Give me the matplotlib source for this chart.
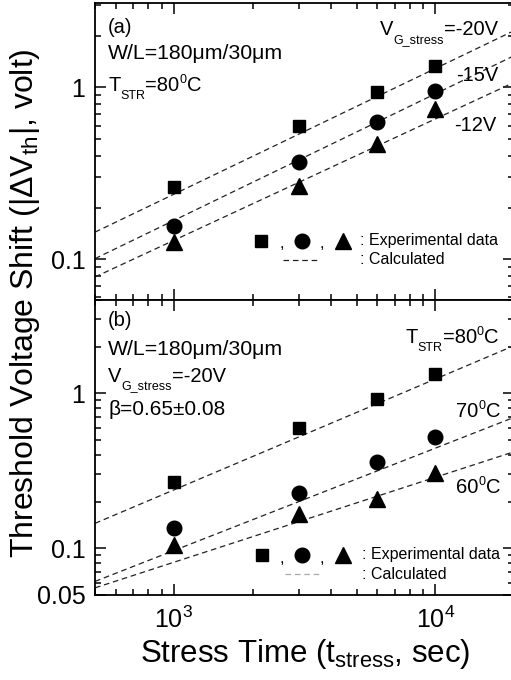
import matplotlib
matplotlib.use("Agg")
import matplotlib.pyplot as plt
from matplotlib.ticker import LogLocator, NullFormatter, FixedLocator, FixedFormatter
from matplotlib.transforms import offset_copy

plt.rcParams['font.family'] = ['Liberation Sans', 'DejaVu Sans']
plt.rcParams['mathtext.fontset'] = 'custom'
plt.rcParams['mathtext.rm'] = 'Liberation Sans'
plt.rcParams['mathtext.it'] = 'Liberation Sans:italic'
plt.rcParams['mathtext.bf'] = 'Liberation Sans:bold'

# stress time (sec)
t_stress = [1000, 3000, 6000, 10000]

# (a) T = 80C, different gate stress
a_20V = [0.262, 0.60, 0.935, 1.34]
a_15V = [0.156, 0.37, 0.63, 0.96]
a_12V = [0.126, 0.266, 0.466, 0.745]

# (b) VG = -20V, different temperature
b_80C = [0.268, 0.60, 0.925, 1.34]
b_70C = [0.135, 0.229, 0.36, 0.52]
b_60C = [0.1045, 0.166, 0.209, 0.306]

# calculated lines, values at the axis ends
t_calc = [500, 20000]
a_calc_20V = [0.144, 2.14]
a_calc_15V = [0.101, 1.53]
a_calc_12V = [0.079, 1.07]
b_calc_80C = [0.145, 2.03]
b_calc_70C = [0.0612, 0.70]
b_calc_60C = [0.0556, 0.42]

fig = plt.figure(figsize=(5.11, 6.8), dpi=100)
ax1 = fig.add_axes([0.186, 0.5588, 0.82, 0.4368])
ax2 = fig.add_axes([0.186, 0.125, 0.82, 0.4338])
renderer = fig.canvas.get_renderer()

dash = dict(color='#222222', lw=0.9, dashes=(4.5, 3))
ms_sq, ms_ci, ms_tr = 9, 10.5, 11
fs_small = 9


def rich(ax, x, y, parts, ha='left', size=14.5):
    # parts: (string, kind) with kind '', 'sub' or 'sup'
    items = []
    total = 0
    for s, kind in parts:
        fs = size if kind == '' else fs_small
        t = ax.text(x, y, s, fontsize=fs, va='baseline', transform=ax.transAxes)
        w = t.get_window_extent(renderer).width * 72 / fig.dpi
        items.append((t, kind, w))
        total += w
    dx = -total if ha == 'right' else 0
    for t, kind, w in items:
        dy = {'': 0, 'sub': -5.5, 'sup': 5.5}[kind]
        t.set_transform(offset_copy(ax.transAxes, fig=fig, x=dx, y=dy, units='points'))
        dx += w


for ax in (ax1, ax2):
    ax.set_xscale('log')
    ax.set_yscale('log')
    ax.set_xlim(500, 20000)
    for s in ax.spines.values():
        s.set_linewidth(1.3)
    ax.tick_params(which='both', direction='in', top=True, right=True, width=1.1)
    ax.tick_params(which='major', length=8, labelsize=18, pad=7)
    ax.tick_params(which='minor', length=4.5)
    ax.xaxis.set_major_locator(LogLocator(base=10, numticks=10))
    ax.xaxis.set_minor_locator(LogLocator(base=10, subs=range(2, 10), numticks=10))
    ax.xaxis.set_minor_formatter(NullFormatter())
    ax.yaxis.set_minor_locator(LogLocator(base=10, subs=range(2, 10), numticks=10))
    ax.yaxis.set_minor_formatter(NullFormatter())

# panel (a)
ax1.set_ylim(0.058, 3.1)
ax1.plot(t_calc, a_calc_20V, **dash)
ax1.plot(t_calc, a_calc_15V, **dash)
ax1.plot(t_calc, a_calc_12V, **dash)
ax1.plot(t_stress, a_20V, 's', color='black', ms=ms_sq, ls='none')
ax1.plot(t_stress, a_15V, 'o', color='black', ms=ms_ci, ls='none')
ax1.plot(t_stress, a_12V, '^', color='black', ms=ms_tr, ls='none')
ax1.yaxis.set_major_locator(FixedLocator([0.1, 1]))
ax1.yaxis.set_major_formatter(FixedFormatter(['0.1', '1']))
ax1.tick_params(axis='x', labelbottom=False)

tr1 = ax1.transAxes
rich(ax1, 0.031, 0.899, [('(a)', '')])
rich(ax1, 0.031, 0.811, [('W/L=180μm/30μm', '')], size=15.3)
rich(ax1, 0.031, 0.704, [('T', ''), ('STR', 'sub'), ('=80', ''), ('0', 'sup'), ('C', '')])
rich(ax1, 0.962, 0.892, [('V', ''), ('G_stress', 'sub'), ('=-20V', '')], ha='right')
rich(ax1, 0.962, 0.737, [('-15V', '')], ha='right')
rich(ax1, 0.957, 0.569, [('-12V', '')], ha='right')

# legend text drawn by hand
ax1.plot([0.396], [0.199], 's', color='black', ms=ms_sq, transform=tr1)
ax1.plot([0.494], [0.199], 'o', color='black', ms=ms_ci, transform=tr1)
ax1.plot([0.592], [0.199], '^', color='black', ms=ms_tr, transform=tr1)
ax1.text(0.446, 0.175, ',', fontsize=12, ha='center', transform=tr1)
ax1.text(0.542, 0.175, ',', fontsize=12, ha='center', transform=tr1)
ax1.text(0.632, 0.199, ': Experimental data', fontsize=11.5, va='center', transform=tr1)
ax1.plot([0.449, 0.532], [0.135, 0.135], transform=tr1, **dash)
ax1.text(0.632, 0.135, ': Calculated', fontsize=11.5, va='center', transform=tr1)

# panel (b)
ax2.set_ylim(0.05, 4.0)
ax2.plot(t_calc, b_calc_80C, **dash)
ax2.plot(t_calc, b_calc_70C, **dash)
ax2.plot(t_calc, b_calc_60C, **dash)
ax2.plot(t_stress, b_80C, 's', color='black', ms=ms_sq, ls='none')
ax2.plot(t_stress, b_70C, 'o', color='black', ms=ms_ci, ls='none')
ax2.plot(t_stress, b_60C, '^', color='black', ms=ms_tr, ls='none')
ax2.yaxis.set_major_locator(FixedLocator([0.05, 0.1, 1]))
ax2.yaxis.set_major_formatter(FixedFormatter(['0.05', '0.1', '1']))
ax2.tick_params(axis='x', labelsize=18, pad=8)

tr2 = ax2.transAxes
rich(ax2, 0.031, 0.912, [('(b)', '')])
rich(ax2, 0.031, 0.814, [('W/L=180μm/30μm', '')], size=15.3)
rich(ax2, 0.031, 0.723, [('V', ''), ('G_stress', 'sub'), ('=-20V', '')])
rich(ax2, 0.031, 0.61, [('β=0.65±0.08', '')], size=15)
rich(ax2, 0.962, 0.854, [('T', ''), ('STR', 'sub'), ('=80', ''), ('0', 'sup'), ('C', '')], ha='right')
rich(ax2, 0.967, 0.603, [('70', ''), ('0', 'sup'), ('C', '')], ha='right')
rich(ax2, 0.967, 0.346, [('60', ''), ('0', 'sup'), ('C', '')], ha='right')

ax2.plot([0.399], [0.136], 's', color='black', ms=ms_sq, transform=tr2)
ax2.plot([0.494], [0.136], 'o', color='black', ms=ms_ci, transform=tr2)
ax2.plot([0.592], [0.136], '^', color='black', ms=ms_tr, transform=tr2)
ax2.text(0.446, 0.11, ',', fontsize=12, ha='center', transform=tr2)
ax2.text(0.542, 0.11, ',', fontsize=12, ha='center', transform=tr2)
ax2.text(0.637, 0.136, ': Experimental data', fontsize=11.5, va='center', transform=tr2)
ax2.plot([0.454, 0.537], [0.071, 0.071], color='#aaaaaa', lw=0.9, dashes=(4.5, 3), transform=tr2)
ax2.text(0.637, 0.071, ': Calculated', fontsize=11.5, va='center', transform=tr2)

fig.text(0.049, 0.554, r'Threshold Voltage Shift (|ΔV$_{\mathrm{th}}$|, volt)',
         fontsize=23, rotation=90, ha='center', va='center')
fig.text(0.597, 0.026, r'Stress Time (t$_{\mathrm{stress}}$, sec)',
         fontsize=22.5, ha='center', va='baseline')

fig.savefig('out.png', dpi=100)
